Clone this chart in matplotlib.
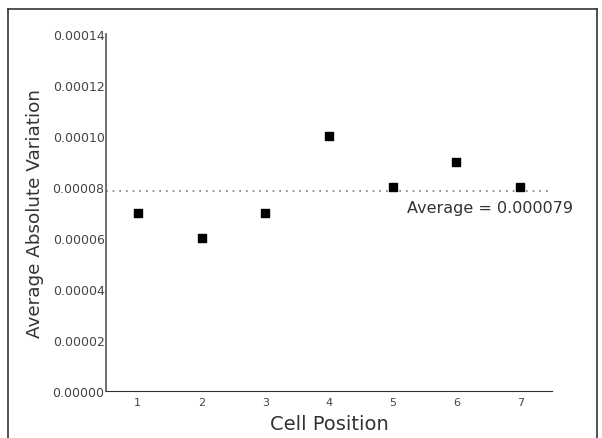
import numpy as np
import matplotlib.pyplot as plt
from matplotlib.lines import Line2D

# datos
posiciones = [1, 2, 3, 4, 5, 6, 7]
variacion = [0.00007, 0.00006, 0.00007, 0.00010, 0.00008, 0.00009, 0.00008]
etiqueta_media = 'Average = 0.000079'
yticks = [0.0, 0.00002, 0.00004, 0.00006, 0.00008, 0.00010, 0.00012, 0.00014]

media = np.mean(variacion)

fig = plt.figure(figsize=(6.02, 4.39), dpi=100)
ax = fig.add_axes([0.176, 0.107, 0.741, 0.813])

ax.scatter(posiciones, variacion, marker='s', s=26, color='black', zorder=3)
ax.axhline(media, color='#777777', linestyle=(0, (1, 3)), linewidth=1.2)
ax.text(6.53, media - 0.0000065, etiqueta_media, ha='center', va='center',
        fontsize=11.5, color='#333333')

ax.set_xlim(0.5, 7.5)
ax.set_ylim(0, 0.00014)
ax.set_xticks(posiciones)
ax.set_yticks(yticks)
ax.set_yticklabels(['%.5f' % v for v in yticks])
ax.tick_params(axis='both', length=0, labelcolor='#444444')
ax.tick_params(axis='x', pad=4, labelsize=8)
ax.tick_params(axis='y', pad=1, labelsize=9)

ax.spines['top'].set_visible(False)
ax.spines['right'].set_visible(False)
ax.spines['left'].set_color('#555555')
ax.spines['bottom'].set_color('#333333')
ax.spines['left'].set_linewidth(1.2)

ax.set_xlabel('Cell Position', fontsize=14, color='#333333', labelpad=5)
ax.set_ylabel('Average Absolute Variation', fontsize=13.2, color='#333333', labelpad=6)

# marco exterior
for xs, ys in [([8/602, 8/602], [0, 429/439]),
               ([8/602, 597/602], [429/439, 429/439]),
               ([597/602, 597/602], [0, 429/439])]:
    fig.add_artist(Line2D(xs, ys, color='#333333', linewidth=1.2, transform=fig.transFigure))

fig.savefig('out.png', dpi=100)
